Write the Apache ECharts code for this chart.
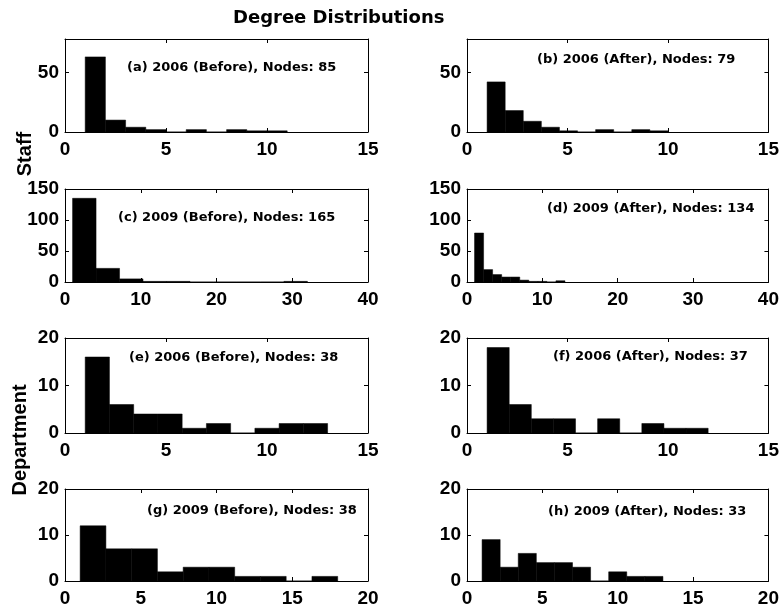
<!DOCTYPE html>
<html>
<head>
<meta charset="utf-8">
<script src="https://cdn.jsdelivr.net/npm/echarts@6/dist/echarts.min.js"></script>
<style>
  html, body { margin: 0; padding: 0; background: #fff; }
  #chart { width: 782px; height: 608px; }
</style>
</head>
<body>
<div id="chart"></div>
<script>
// panel captions
const panelNames = [
  '(a) 2006 (Before), Nodes: 85',
  '(b) 2006 (After), Nodes: 79',
  '(c) 2009 (Before), Nodes: 165',
  '(d) 2009 (After), Nodes: 134',
  '(e) 2006 (Before), Nodes: 38',
  '(f) 2006 (After), Nodes: 37',
  '(g) 2009 (Before), Nodes: 38',
  '(h) 2009 (After), Nodes: 33'
]

// histogram bin edges (degree) per panel
const edgesA = [1, 2, 3, 4, 5, 6, 7, 8, 9, 10, 11]
const edgesB = [1, 1.9, 2.8, 3.7, 4.6, 5.5, 6.4, 7.3, 8.2, 9.1, 10]
const edgesC = [1, 4.1, 7.2, 10.3, 13.4, 16.5, 19.6, 22.7, 25.8, 28.9, 32]
const edgesD = [1, 2.2, 3.4, 4.6, 5.8, 7, 8.2, 9.4, 10.6, 11.8, 13]
const edgesE = [1, 2.2, 3.4, 4.6, 5.8, 7, 8.2, 9.4, 10.6, 11.8, 13]
const edgesF = [1, 2.1, 3.2, 4.3, 5.4, 6.5, 7.6, 8.7, 9.8, 10.9, 12]
const edgesG = [1, 2.7, 4.4, 6.1, 7.8, 9.5, 11.2, 12.9, 14.6, 16.3, 18]
const edgesH = [1, 2.2, 3.4, 4.6, 5.8, 7, 8.2, 9.4, 10.6, 11.8, 13]

// counts per bin
const countsA = [63, 10, 4, 2, 0, 2, 0, 2, 1, 1]
const countsB = [42, 18, 9, 4, 1, 0, 2, 0, 2, 1]
const countsC = [135, 22, 5, 1, 1, 0, 0, 0, 0, 1]
const countsD = [79, 20, 12, 8, 8, 3, 1, 1, 0, 2]
const countsE = [16, 6, 4, 4, 1, 2, 0, 1, 2, 2]
const countsF = [18, 6, 3, 3, 0, 3, 0, 2, 1, 1]
const countsG = [12, 7, 7, 2, 3, 3, 1, 1, 0, 1]
const countsH = [9, 3, 6, 4, 4, 3, 0, 2, 1, 1]

// axis ranges / tick steps
const xMaxes = [15, 15, 40, 40, 15, 15, 20, 20]
const xSteps = [5, 5, 10, 10, 5, 5, 5, 5]
const yMaxes = [78, 78, 150, 150, 20, 20, 20, 20]
const ySteps = [50, 50, 50, 50, 10, 10, 10, 10]

const allEdges = [edgesA, edgesB, edgesC, edgesD, edgesE, edgesF, edgesG, edgesH]
const allCounts = [countsA, countsB, countsC, countsD, countsE, countsF, countsG, countsH]

// layout (pixels)
const colLeft = [65, 467]
const colWidth = [303, 302]
const rowTop = [39, 189, 338, 489]
const rowHeight = [93, 93, 95, 94]
const captionPos = [[127, 68], [537, 60], [118, 218], [547, 209], [129, 358], [553, 357], [147, 511], [548, 512]]

const tickFont = { fontFamily: 'Liberation Sans', fontWeight: 'bold', fontSize: 19, color: '#000' }
const black = { color: '#000', width: 1 }

const grids = []
const xAxes = []
const yAxes = []
const series = []
const graphics = []

for (let i = 0; i < 8; i++) {
  const col = i % 2
  const row = Math.floor(i / 2)
  grids.push({ left: colLeft[col], top: rowTop[row], width: colWidth[col], height: rowHeight[row] })

  // bottom + top x axes (box)
  xAxes.push({
    type: 'value', gridIndex: i, position: 'bottom', min: 0, max: xMaxes[i], interval: xSteps[i],
    axisLine: { show: true, onZero: false, lineStyle: black },
    axisTick: { show: true, inside: true, length: 4, lineStyle: black },
    axisLabel: Object.assign({ margin: 8 }, tickFont),
    splitLine: { show: false }
  })
  xAxes.push({
    type: 'value', gridIndex: i, position: 'top', min: 0, max: xMaxes[i], interval: xSteps[i],
    axisLine: { show: true, onZero: false, lineStyle: black },
    axisTick: { show: true, inside: true, length: 4, lineStyle: black },
    axisLabel: { show: false },
    splitLine: { show: false }
  })
  // left + right y axes (box)
  yAxes.push({
    type: 'value', gridIndex: i, position: 'left', min: 0, max: yMaxes[i], interval: ySteps[i],
    axisLine: { show: true, onZero: false, lineStyle: black },
    axisTick: { show: true, inside: true, length: 4, lineStyle: black },
    axisLabel: Object.assign({ margin: 6, showMaxLabel: yMaxes[i] % ySteps[i] === 0 }, tickFont),
    splitLine: { show: false }
  })
  yAxes.push({
    type: 'value', gridIndex: i, position: 'right', min: 0, max: yMaxes[i], interval: ySteps[i],
    axisLine: { show: true, onZero: false, lineStyle: black },
    axisTick: { show: true, inside: true, length: 4, lineStyle: black },
    axisLabel: { show: false },
    splitLine: { show: false }
  })

  const edges = allEdges[i]
  const data = allCounts[i].map((c, k) => [edges[k], edges[k + 1], c])
  series.push({
    type: 'custom',
    xAxisIndex: 2 * i,
    yAxisIndex: 2 * i,
    encode: { x: [0, 1], y: 2 },
    data: data,
    renderItem: (params, api) => {
      const p0 = api.coord([api.value(0), api.value(2)])
      const p1 = api.coord([api.value(1), 0])
      return {
        type: 'rect',
        shape: { x: p0[0], y: p0[1], width: p1[0] - p0[0], height: p1[1] - p0[1] },
        style: { fill: '#000', stroke: '#000', lineWidth: 0.5 }
      }
    }
  })

  graphics.push({
    type: 'text',
    x: captionPos[i][0],
    y: captionPos[i][1],
    style: {
      text: panelNames[i],
      font: 'bold 13px "DejaVu Sans"',
      fill: '#000',
      verticalAlign: 'middle'
    }
  })
}

graphics.push({
  type: 'text', x: 233, y: 18,
  style: { text: 'Degree Distributions', font: 'bold 18px "DejaVu Sans"', fill: '#000', verticalAlign: 'middle' }
})
graphics.push({
  type: 'text', x: 25, y: 154, rotation: Math.PI / 2,
  style: { text: 'Staff', font: 'bold 20px "Liberation Sans"', fill: '#000', align: 'center', verticalAlign: 'middle' }
})
graphics.push({
  type: 'text', x: 20, y: 440, rotation: Math.PI / 2,
  style: { text: 'Department', font: 'bold 20px "Liberation Sans"', fill: '#000', align: 'center', verticalAlign: 'middle' }
})

const chart = echarts.init(document.getElementById('chart'), null, { renderer: 'canvas' })
chart.setOption({
  backgroundColor: '#fff',
  animation: false,
  grid: grids,
  xAxis: xAxes,
  yAxis: yAxes,
  series: series,
  graphic: graphics
})
</script>
</body>
</html>
